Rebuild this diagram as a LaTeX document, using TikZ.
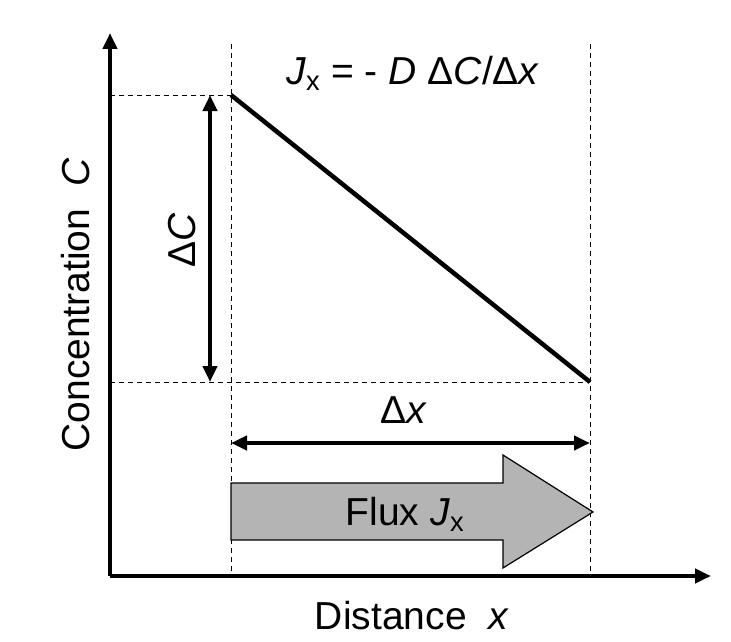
\documentclass[tikz,border=0pt]{standalone}
\usepackage{fontspec}
\setmainfont{Liberation Sans}
\usetikzlibrary{positioning, arrows.meta, calc}
\definecolor{fluxgrey}{HTML}{B4B4B4}
\tikzset{
  axis/.style={line width=4pt, -{Triangle[length=16pt, width=14pt]}},
  guide/.style={black, line width=0.9pt, dash pattern=on 5pt off 4pt},
  span/.style={line width=4pt, {Triangle[length=16pt, width=14pt]}-{Triangle[length=16pt, width=14pt]}},
  lbl/.style={font=\fontsize{39}{44}\selectfont, inner sep=0pt}
}
\begin{document}
\begin{tikzpicture}[x=1pt, y=-1pt]
    \useasboundingbox (0,0) rectangle (731,642);
    % Punkte des Profils
    \coordinate (O) at (110,576);
    \coordinate (ytip) at (110,33);
    \coordinate (xtip) at (711,576);
    \coordinate (hi) at (231,95);
    \coordinate (lo) at (590,382);
    % Hilfslinien
    \draw[guide] (231,44) -- (231,576);
    \draw[guide] (590,44) -- (590,576);
    \draw[guide] (O |- hi) -- (hi);
    \draw[guide] (O |- lo) -- (lo);
    % Achsen
    \draw[axis] (O) -- (ytip);
    \draw[axis] (O) -- (xtip);
    % Konzentrationsgefaelle
    \draw[line width=4.5pt] (hi) -- (lo);
    % Delta C und Delta x
    \coordinate (dCtop) at (210,95);
    \coordinate (dCbot) at (210,382);
    \draw[span] (dCtop) -- (dCbot);
    \coordinate (dxl) at (231,443);
    \coordinate (dxr) at (590,443);
    \draw[span] (dxl) -- (dxr);
    \node[lbl, rotate=90] (dC) at (182,240) {Δ\textit{C}};
    \node[lbl] (dx) at (404,410) {Δ\textit{x}};
    % Flusspfeil
    \draw[fill=fluxgrey, line width=1.2pt] (231,483) -- (503,483) -- (503,455) -- (593,512)
      -- (503,568) -- (503,540) -- (231,540) -- cycle;
    \node[lbl] (flux) at (405,514) {Flux \textit{J}\textsubscript{x}};
    % Gleichung und Achsenbeschriftung
    \node[lbl] (law) at (413,73)
      {\textit{J}\textsubscript{x} = - \textit{D} Δ\textit{C}/Δ\textit{x}};
    \node[lbl, rotate=90] (ylab) at (76,305) {Concentration \ \textit{C}};
    \node[lbl] (xlab) at (412,616) {Distance \ \textit{x}};
  \end{tikzpicture}
\end{document}
